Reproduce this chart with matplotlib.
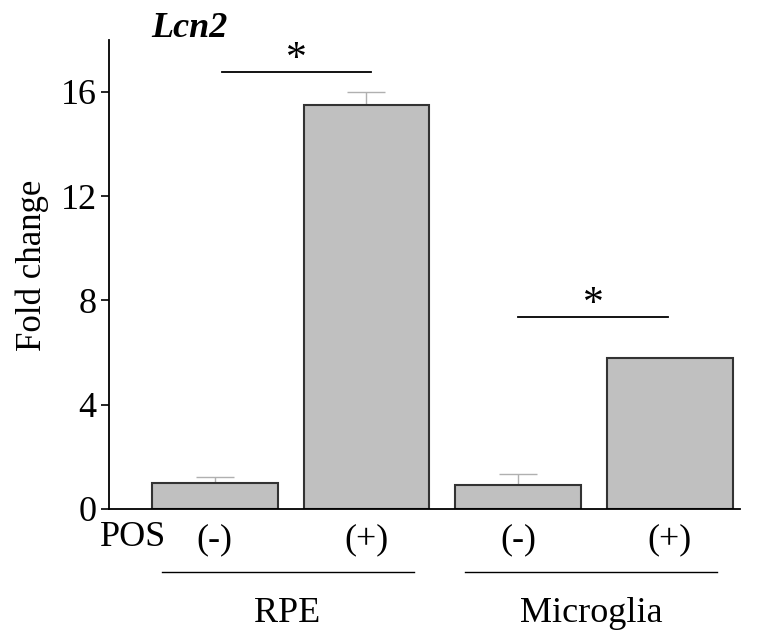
import numpy as np
import matplotlib.pyplot as plt

plt.rcParams['font.family'] = ['Liberation Serif', 'DejaVu Serif']

# data
conditions = ["(-)", "(+)", "(-)", "(+)"]
groups = ["RPE", "Microglia"]
fold_change = [1.0, 15.5, 0.92, 5.8]
err_up = [0.23, 0.5, 0.43, 0.0]

x = np.arange(len(fold_change))

fig = plt.figure(figsize=(7.65, 6.33), dpi=100)
ax = fig.add_axes([0.1425, 0.196, 0.8245, 0.741])

ax.bar(x, fold_change, width=0.83, color="#c0c0c0", edgecolor="#333333",
       linewidth=1.5, zorder=2)
ax.errorbar(x, fold_change, yerr=[np.zeros(len(err_up)), err_up], fmt="none",
            ecolor="#b0b0b0", elinewidth=1.0, capsize=14, capthick=1.0, zorder=1)

ax.set_xlim(-0.697, 3.46)
ax.set_ylim(0, 18)
ax.set_yticks([0, 4, 8, 12, 16])
ax.tick_params(axis="y", labelsize=26, direction="out", length=6, width=1.2, pad=3)
ax.set_xticks([])
for s in ["top", "right"]:
    ax.spines[s].set_visible(False)
ax.spines["left"].set_linewidth(1.3)
ax.spines["bottom"].set_linewidth(1.3)
ax.set_ylabel("Fold change", fontsize=25, va="center")
ax.yaxis.set_label_coords(-0.122, 0.52)

# title
ax.text(-0.42, 18.1, "Lcn2", fontsize=26, fontweight="bold", fontstyle="italic",
        ha="left", va="baseline", clip_on=False)

# significance bars
sig = [(0.046, 1.03, 16.77), (2.0, 2.99, 7.38)]
for x0, x1, y in sig:
    ax.plot([x0, x1], [y, y], color="black", lw=1.3)
    ax.text((x0 + x1) / 2, y + 0.45, "*", fontsize=30, ha="center", va="center")

# condition labels below axis
trans = ax.get_xaxis_transform()
ax.text(-0.54, -0.06, "POS", fontsize=26, ha="center", va="center",
        transform=trans, clip_on=False)
for xi, lab in zip(x, conditions):
    ax.text(xi, -0.066, lab, fontsize=26, ha="center", va="center",
            transform=trans, clip_on=False)

# group lines and labels
for gi, g in enumerate(groups):
    x0 = 2 * gi - 0.35
    x1 = 2 * gi + 1.31
    ax.plot([x0, x1], [-0.134, -0.134], color="black", lw=1.0,
            transform=trans, clip_on=False)
    ax.text((x0 + x1) / 2, -0.222, g, fontsize=26, ha="center", va="center",
            transform=trans, clip_on=False)

fig.savefig("out.png", dpi=100)
